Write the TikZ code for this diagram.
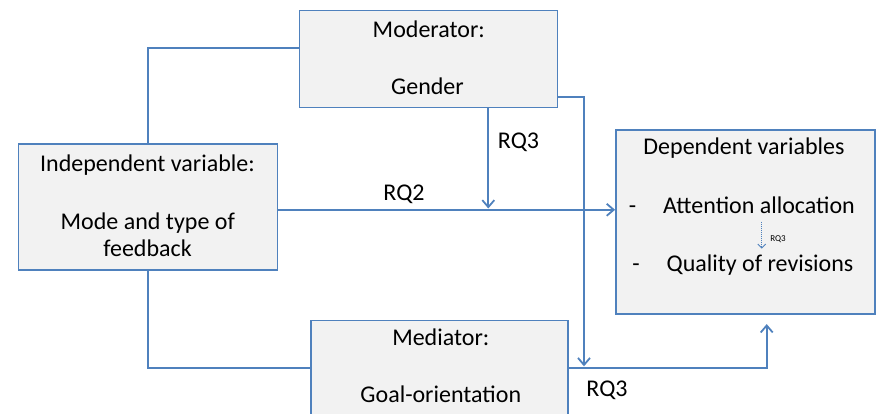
\documentclass[tikz,border=0pt]{standalone}
\usepackage{fontspec}
\setmainfont{Carlito}
\usepackage{tikz}
\usetikzlibrary{positioning}
\usetikzlibrary{arrows.meta}
\definecolor{lineblue}{RGB}{79,129,189}
\definecolor{boxgray}{RGB}{242,242,242}
\tikzstyle{link}= [line width=1.8pt, draw=lineblue]
\tikzstyle{arrow}= [line width=1.8pt, draw=lineblue, -{Straight Barb[length=7pt,width=12pt]}]
\tikzstyle{rqarrow}= [line width=0.9pt, draw=lineblue, dash pattern=on 1pt off 1pt, -{Straight Barb[length=4pt,width=8pt]}]

\begin{document}
\begin{tikzpicture}[
    x=1pt, y=-1pt,
    font=\fontsize{24}{27.5}\selectfont,
    box/.style={
    draw=lineblue, line width=1.8pt, fill=boxgray, rectangle, inner sep=0pt,
    },
    txt/.style={inner sep=0pt, anchor=base},
    rq/.style={inner sep=0pt, anchor=base}
  ]
  \useasboundingbox (0,0) rectangle (878,414);
  \clip (0,0) rectangle (878,414);

  % boxes
  \node[box,minimum width=258pt,minimum height=97pt] (mod) at (428.5,59) {};
  \node[box,minimum width=259pt,minimum height=126pt] (indep) at (148,207) {};
  \node[box,minimum width=259pt,minimum height=184pt] (dep) at (745.5,222.2) {};
  \node[box,minimum width=257pt,minimum height=100pt] (med) at (439.7,370.5) {};

  % texts
  \node[txt] (modtitle) at (428.8,37.3) {Moderator:};
  \node[txt] (modvar) at (427.5,95) {Gender};
  \node[txt] (indtitle) at (147.5,171.7) {Independent variable:};
  \node[txt] (indvar1) at (147.8,229.3) {Mode and type of};
  \node[txt] (indvar2) at (147.5,256.7) {feedback};
  \node[txt] (deptitle) at (744,155) {Dependent variables};
  \node[txt] (dash1) at (632.5,213.3) {-};
  \node[txt] (att) at (759,213.3) {Attention allocation};
  \node[txt] (dash2) at (636,271) {-};
  \node[txt] (qual) at (760,271) {Quality of revisions};
  \node[txt] (medtitle) at (440.8,345) {Mediator:};
  \node[txt] (medvar) at (440.8,402.7) {Goal-orientation};

  % connectors
  \coordinate (join) at (584,368.3);
  \draw[link] ([yshift=10.7pt]mod.west) -| (indep.north);
  \draw[link] (indep.south) |- ([yshift=2.2pt]med.west);
  \draw[arrow] ([yshift=-2.8pt]indep.east) -- ([yshift=-2.8pt]indep.east -| dep.west);
  \draw[arrow] ([xshift=59.8pt]mod.south) -- ([xshift=59.8pt,yshift=-1.5pt]mod.south |- indep.east);
  \draw[arrow] ([yshift=-37.7pt]mod.east) -| ([yshift=2pt]join);
  \draw[arrow] ([yshift=2.2pt]med.east) -| ([xshift=21.2pt,yshift=-9pt]dep.south);
  \draw[rqarrow] ([xshift=2.7pt,yshift=-8.4pt]att.base) -- ++(0,27);

  % labels
  \node[rq] (rqtop) at (518.5,149) {RQ3};
  \node[rq] (rqmid) at (404,201) {RQ2};
  \node[rq] (rqlow) at (607,396.7) {RQ3};
  \node[rq,font=\fontsize{9}{10}\selectfont] (rqsmall) at (778,241) {RQ3};

\end{tikzpicture}
\end{document}
